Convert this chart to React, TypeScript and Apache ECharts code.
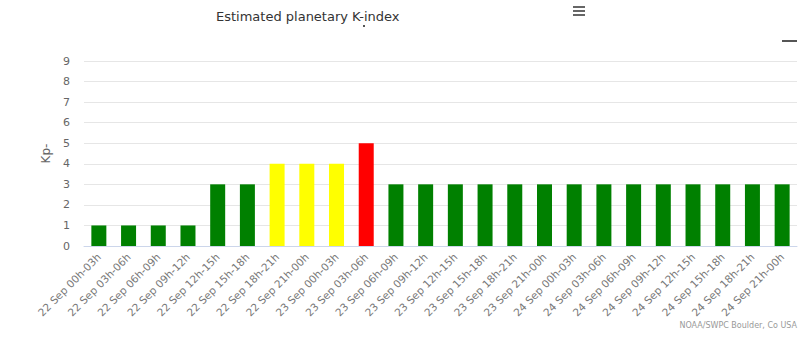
import React, { useEffect, useRef } from "react";
import * as echarts from "echarts";

const categories = [
  "22 Sep 00h-03h", "22 Sep 03h-06h", "22 Sep 06h-09h", "22 Sep 09h-12h",
  "22 Sep 12h-15h", "22 Sep 15h-18h", "22 Sep 18h-21h", "22 Sep 21h-00h",
  "23 Sep 00h-03h", "23 Sep 03h-06h", "23 Sep 06h-09h", "23 Sep 09h-12h",
  "23 Sep 12h-15h", "23 Sep 15h-18h", "23 Sep 18h-21h", "23 Sep 21h-00h",
  "24 Sep 00h-03h", "24 Sep 03h-06h", "24 Sep 06h-09h", "24 Sep 09h-12h",
  "24 Sep 12h-15h", "24 Sep 15h-18h", "24 Sep 18h-21h", "24 Sep 21h-00h",
];
const kpValues = [1, 1, 1, 1, 3, 3, 4, 4, 4, 5, 3, 3, 3, 3, 3, 3, 3, 3, 3, 3, 3, 3, 3, 3];
const yTicks = [0, 1, 2, 3, 4, 5, 6, 7, 8, 9];

function colorFor(v: number): string {
  if (v >= 5) return "#ff0000";
  if (v === 4) return "#ffff00";
  return "#008000";
}

const FONT = "DejaVu Sans";

export default function App() {
  const ref = useRef<HTMLDivElement>(null);
  useEffect(() => {
    if (!ref.current) return;
    const chart = echarts.init(ref.current, undefined, { renderer: "svg" });
    chart.setOption({
      animation: false,
      backgroundColor: "#ffffff",
      textStyle: { fontFamily: FONT },
      title: {
        text: "Estimated planetary K-index",
        left: 211,
        top: 5,
        textStyle: { fontFamily: FONT, fontSize: 13, fontWeight: "normal", color: "#333333" },
      },
      grid: { left: 84, right: 5, top: 61, bottom: 101, containLabel: false },
      xAxis: {
        type: "category",
        data: categories,
        axisLine: { lineStyle: { color: "#ccd6eb" } },
        axisTick: { show: false },
        axisLabel: {
          rotate: 45,
          interval: 0,
          margin: 9,
          color: "#777777",
          fontSize: 10.5,
          fontFamily: FONT,
        },
      },
      yAxis: {
        type: "value",
        min: yTicks[0],
        max: yTicks[yTicks.length - 1],
        interval: 1,
        name: "Kp-",
        nameLocation: "middle",
        nameGap: 24,
        nameRotate: 90,
        nameTextStyle: { color: "#666666", fontSize: 12, fontFamily: FONT },
        axisLine: { show: false },
        axisTick: { show: false },
        axisLabel: { color: "#666666", fontSize: 11, fontFamily: FONT, margin: 14 },
        splitLine: { lineStyle: { color: "#e6e6e6" } },
      },
      series: [
        {
          type: "bar",
          barWidth: 15,
          data: kpValues.map((v) => ({ value: v, itemStyle: { color: colorFor(v) } })),
        },
      ],
      graphic: [
        { type: "rect", shape: { x: 573, y: 6, width: 12, height: 2 }, style: { fill: "#666666" } },
        { type: "rect", shape: { x: 573, y: 10, width: 12, height: 2 }, style: { fill: "#666666" } },
        { type: "rect", shape: { x: 573, y: 14, width: 12, height: 2 }, style: { fill: "#666666" } },
        { type: "rect", shape: { x: 782, y: 40, width: 15, height: 2 }, style: { fill: "#555555" } },
        { type: "rect", shape: { x: 363, y: 25, width: 2, height: 2 }, style: { fill: "#555555" } },
        {
          type: "text",
          right: 5,
          top: 321,
          style: { text: "NOAA/SWPC Boulder, Co USA", fill: "#999999", fontSize: 8, fontFamily: FONT },
        },
      ],
    });
    return () => chart.dispose();
  }, []);
  return <div ref={ref} style={{ width: 802, height: 347, position: "absolute", left: 0, top: 0 }} />;
}
